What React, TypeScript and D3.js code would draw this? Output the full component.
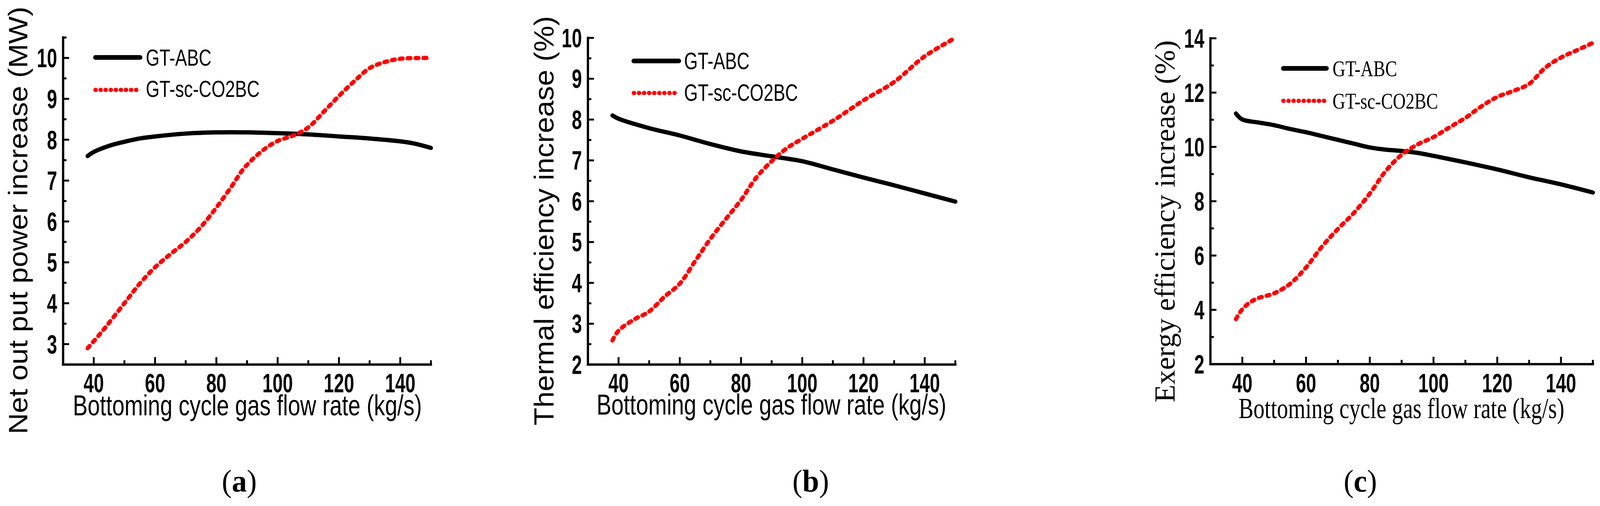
import React from 'react';
import * as d3 from 'd3';

// ---------- data ----------
const flowPowerABC = [38, 40, 45, 50, 55, 60, 70, 80, 90, 100, 110, 120, 130, 140, 145, 150];
const powerABC = [7.6, 7.7, 7.85, 7.95, 8.03, 8.08, 8.15, 8.18, 8.18, 8.16, 8.13, 8.08, 8.03, 7.96, 7.9, 7.8];
const flowPowerCO2 = [38, 42.5, 50, 55, 60, 65, 70, 75, 80, 85, 89, 95, 100, 105, 110, 115, 120, 125, 130, 135, 140, 150];
const powerCO2 = [2.9, 3.29, 4.0, 4.48, 4.88, 5.2, 5.5, 5.87, 6.34, 6.86, 7.3, 7.73, 7.97, 8.1, 8.3, 8.68, 9.07, 9.43, 9.75, 9.9, 9.98, 10.0];

const flowThermalABC = [38, 40, 50, 60, 70, 80, 90, 100, 110, 120, 130, 140, 150];
const thermalABC = [8.1, 8.02, 7.79, 7.61, 7.4, 7.22, 7.1, 6.98, 6.78, 6.58, 6.39, 6.19, 5.99];
const flowThermalCO2 = [38, 40, 45, 50, 55, 60, 65, 70, 75, 80, 85, 90, 95, 100, 110, 120, 130, 140, 150];
const thermalCO2 = [2.59, 2.83, 3.1, 3.3, 3.66, 3.98, 4.53, 5.08, 5.56, 6.03, 6.58, 6.98, 7.3, 7.53, 7.97, 8.47, 8.92, 9.55, 10.0];

const flowExergyABC = [38, 40, 45, 50, 55, 60, 65, 70, 75, 80, 85, 90, 95, 100, 110, 120, 130, 140, 150];
const exergyABC = [11.23, 11.01, 10.9, 10.8, 10.66, 10.54, 10.4, 10.26, 10.12, 9.98, 9.9, 9.85, 9.78, 9.67, 9.43, 9.17, 8.88, 8.62, 8.32];
const flowExergyCO2 = [38, 40, 42.5, 45, 50, 55, 60, 65, 70, 75, 80, 85, 90, 95, 100, 105, 110, 115, 120, 125, 130, 135, 140, 145, 150];
const exergyCO2 = [3.66, 4.02, 4.28, 4.43, 4.61, 4.96, 5.56, 6.33, 6.98, 7.57, 8.28, 9.11, 9.71, 10.09, 10.36, 10.72, 11.07, 11.49, 11.84, 12.06, 12.32, 12.91, 13.29, 13.56, 13.83];

const xMajorTicks = [40, 60, 80, 100, 120, 140];
const xMinorTicks = [50, 70, 90, 110, 130, 150];
const yMajorA = [3, 4, 5, 6, 7, 8, 9, 10];
const yMinorA = [3.5, 4.5, 5.5, 6.5, 7.5, 8.5, 9.5, 10.5];
const yMajorB = [2, 3, 4, 5, 6, 7, 8, 9, 10];
const yMinorB = [2.5, 3.5, 4.5, 5.5, 6.5, 7.5, 8.5, 9.5];
const yMajorC = [2, 4, 6, 8, 10, 12, 14];
const yMinorC = [3, 5, 7, 9, 11, 13];

const seriesNames = ['GT-ABC', 'GT-sc-CO2BC'];
const xTitle = 'Bottoming cycle gas flow rate (kg/s)';
const yTitles = ['Net out put power increase (MW)', 'Thermal efficiency increase (%)', 'Exergy efficiency increase (%)'];
const panelLabels = ['a', 'b', 'c'];

const SANS = "'Liberation Sans', Arial, Helvetica, sans-serif";
const SERIF = "'Liberation Serif', 'Times New Roman', serif";

type PanelCfg = {
  left: number; right: number; top: number; bottom: number;
  yDomain: [number, number]; yMajor: number[]; yMinor: number[];
  abcX: number[]; abcY: number[]; co2X: number[]; co2Y: number[];
  legLineX: [number, number]; legY: [number, number]; legTextX: number; legBase: [number, number];
  legFont: string; legSize: number; legWidths: [number, number];
  yTitle: string; yTitleX: number; yTitleStart: number; yTitleLen: number; yTitleFont: string; yTitleSize: number;
  xTitleX: number; xTitleBase: number; xTitleLen: number; xTitleFont: string; xTitleSize: number;
  label: string; labelX: number;
};

const Panel: React.FC<{ c: PanelCfg }> = ({ c }) => {
  const x = d3.scaleLinear().domain([30, 150]).range([c.left, c.right]);
  const y = d3.scaleLinear().domain(c.yDomain).range([c.bottom, c.top]);
  const line = d3.line<[number, number]>()
    .x(d => x(d[0])).y(d => y(d[1]))
    .curve(d3.curveCatmullRom.alpha(0.5));
  const abc = line(c.abcX.map((v, i) => [v, c.abcY[i]] as [number, number])) || '';
  const co2 = line(c.co2X.map((v, i) => [v, c.co2Y[i]] as [number, number])) || '';
  const digitW = 27;
  return (
    <g>
      {/* curves */}
      <path d={abc} fill="none" stroke="#000" strokeWidth={11} strokeLinecap="round" />
      <path d={co2} fill="none" stroke="#ff0000" strokeWidth={11} strokeLinecap="round" strokeDasharray="8 13" />
      {/* axes */}
      <line x1={c.left} x2={c.right} y1={c.bottom} y2={c.bottom} stroke="#000" strokeWidth={6} strokeLinecap="square" />
      <line x1={c.left} x2={c.left} y1={c.top} y2={c.bottom} stroke="#000" strokeWidth={6} strokeLinecap="square" />
      {xMajorTicks.map(t => (
        <line key={'xm' + t} x1={x(t)} x2={x(t)} y1={c.bottom} y2={c.bottom - 19} stroke="#000" strokeWidth={5} />
      ))}
      {xMinorTicks.map(t => (
        <line key={'xn' + t} x1={x(t)} x2={x(t)} y1={c.bottom} y2={c.bottom - 11} stroke="#000" strokeWidth={5} />
      ))}
      {c.yMajor.map(t => (
        <line key={'ym' + t} x1={c.left} x2={c.left + 16} y1={y(t)} y2={y(t)} stroke="#000" strokeWidth={5} />
      ))}
      {c.yMinor.map(t => (
        <line key={'yn' + t} x1={c.left} x2={c.left + 9} y1={y(t)} y2={y(t)} stroke="#000" strokeWidth={5} />
      ))}
      {xMajorTicks.map(t => {
        const s = String(t);
        return (
          <text key={'xl' + t} x={x(t)} y={1004} textAnchor="middle" fontFamily={SANS} fontWeight="bold"
            fontSize={68} textLength={s.length * digitW} lengthAdjust="spacingAndGlyphs">{s}</text>
        );
      })}
      {c.yMajor.map(t => {
        const s = String(t);
        return (
          <text key={'yl' + t} x={c.left - 16} y={y(t) + 24} textAnchor="end" fontFamily={SANS} fontWeight="bold"
            fontSize={68} textLength={s.length * digitW} lengthAdjust="spacingAndGlyphs">{s}</text>
        );
      })}
      {/* legend */}
      <line x1={c.legLineX[0]} x2={c.legLineX[1]} y1={c.legY[0]} y2={c.legY[0]} stroke="#000" strokeWidth={12} strokeLinecap="round" />
      <line x1={c.legLineX[0]} x2={c.legLineX[1] - 4} y1={c.legY[1]} y2={c.legY[1]} stroke="#ff0000" strokeWidth={11}
        strokeLinecap="round" strokeDasharray="1 12.5" />
      <text x={c.legTextX} y={c.legBase[0]} fontFamily={c.legFont} fontSize={c.legSize}
        textLength={c.legWidths[0]} lengthAdjust="spacingAndGlyphs">{seriesNames[0]}</text>
      <text x={c.legTextX} y={c.legBase[1]} fontFamily={c.legFont} fontSize={c.legSize}
        textLength={c.legWidths[1]} lengthAdjust="spacingAndGlyphs">{seriesNames[1]}</text>
      {/* titles */}
      <text transform={`translate(${c.yTitleX},${c.yTitleStart}) rotate(-90)`} fontFamily={c.yTitleFont}
        fontSize={c.yTitleSize} textLength={c.yTitleLen} lengthAdjust="spacingAndGlyphs">{c.yTitle}</text>
      <text x={c.xTitleX} y={c.xTitleBase} fontFamily={c.xTitleFont} fontSize={c.xTitleSize}
        textLength={c.xTitleLen} lengthAdjust="spacingAndGlyphs">{xTitle}</text>
      <text x={c.labelX} y={1258} textAnchor="middle" fontFamily={SERIF} fontSize={80}>
        (<tspan fontWeight="bold">{c.label}</tspan>)
      </text>
    </g>
  );
};

export default function App() {
  const panels: PanelCfg[] = [
    {
      left: 168, right: 1147, top: 96, bottom: 933,
      yDomain: [2.5, 10.5], yMajor: yMajorA, yMinor: yMinorA,
      abcX: flowPowerABC, abcY: powerABC, co2X: flowPowerCO2, co2Y: powerCO2,
      legLineX: [254, 373], legY: [147, 230], legTextX: 388, legBase: [168, 248],
      legFont: SANS, legSize: 60, legWidths: [175, 303],
      yTitle: yTitles[0], yTitleX: 73, yTitleStart: 1111, yTitleLen: 1094, yTitleFont: SANS, yTitleSize: 71,
      xTitleX: 194, xTitleBase: 1063, xTitleLen: 929, xTitleFont: SANS, xTitleSize: 74,
      label: panelLabels[0], labelX: 637,
    },
    {
      left: 1565, right: 2543, top: 97, bottom: 933,
      yDomain: [2, 10], yMajor: yMajorB, yMinor: yMinorB,
      abcX: flowThermalABC, abcY: thermalABC, co2X: flowThermalCO2, co2Y: thermalCO2,
      legLineX: [1687, 1807], legY: [156, 238], legTextX: 1821, legBase: [177, 258],
      legFont: SANS, legSize: 61, legWidths: [174, 303],
      yTitle: yTitles[1], yTitleX: 1473, yTitleStart: 1089, yTitleLen: 1048, yTitleFont: SANS, yTitleSize: 74,
      xTitleX: 1588, xTitleBase: 1061, xTitleLen: 931, xTitleFont: SANS, xTitleSize: 74,
      label: panelLabels[1], labelX: 2158,
    },
    {
      left: 3222, right: 4240, top: 98, bottom: 932,
      yDomain: [2, 14], yMajor: yMajorC, yMinor: yMinorC,
      abcX: flowExergyABC, abcY: exergyABC, co2X: flowExergyCO2, co2Y: exergyCO2,
      legLineX: [3416, 3531], legY: [175, 258], legTextX: 3547, legBase: [195, 278],
      legFont: SERIF, legSize: 58, legWidths: [172, 281],
      yTitle: yTitles[2], yTitleX: 3127, yTitleStart: 1030, yTitleLen: 927, yTitleFont: SERIF, yTitleSize: 77,
      xTitleX: 3297, xTitleBase: 1070, xTitleLen: 867, xTitleFont: SERIF, xTitleSize: 73,
      label: panelLabels[2], labelX: 3621,
    },
  ];
  return (
    <svg viewBox="0 0 4259 1295" preserveAspectRatio="none"
      style={{ position: 'fixed', left: 0, top: 0, width: '100vw', height: '100vh', display: 'block', background: '#fff' }}>
      <rect x={0} y={0} width={4259} height={1295} fill="#fff" />
      {panels.map((p, i) => <Panel key={i} c={p} />)}
    </svg>
  );
}
